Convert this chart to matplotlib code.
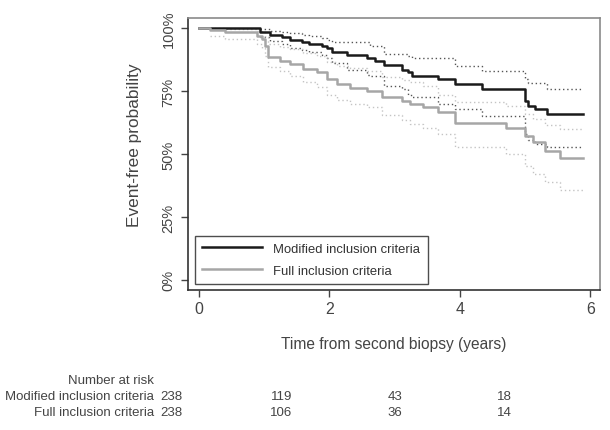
import matplotlib
matplotlib.use("Agg")
import matplotlib.pyplot as plt
import numpy as np

# ---- data ----
mod_t = [0, 0.94, 1.09, 1.27, 1.40, 1.58, 1.68, 1.89, 1.96, 2.04, 2.27, 2.57, 2.70, 2.83,
         3.11, 3.21, 3.26, 3.66, 3.93, 4.34, 5.00, 5.05, 5.15, 5.34, 5.89]
mod_s = [100, 98.3, 97.2, 96.3, 95.4, 94.3, 93.6, 92.8, 91.9, 90.6, 89.5, 88.1, 87.0, 85.3,
         83.5, 82.4, 81.0, 79.7, 77.7, 75.7, 71.1, 69.1, 68.0, 65.8, 65.8]

mod_ci_t = [0.94, 1.09, 1.27, 1.40, 1.58, 1.68, 1.89, 1.96, 2.04, 2.27, 2.57, 2.62, 2.83,
            3.11, 3.21, 3.26, 3.66, 3.93, 4.34, 5.00, 5.05, 5.15, 5.34, 5.89]
mod_hi = [99.5, 99.0, 98.4, 98.0, 97.3, 96.8, 96.0, 95.2, 94.3, 94.3, 94.3, 92.8, 89.7,
          89.7, 89.0, 88.3, 88.3, 85.0, 83.0, 79.7, 78.0, 78.0, 76.0, 76.0]
mod_lo = [96.5, 95.0, 93.5, 92.0, 91.2, 90.5, 89.5, 88.3, 86.0, 83.5, 81.5, 81.0, 77.1,
          76.0, 73.5, 72.5, 70.0, 67.8, 65.1, 58.0, 55.5, 54.0, 52.6, 52.6]

full_t = [0, 0.17, 0.40, 0.89, 0.97, 1.01, 1.06, 1.24, 1.40, 1.60, 1.81, 1.96, 2.12, 2.32,
          2.58, 2.81, 3.11, 3.24, 3.44, 3.67, 3.93, 4.71, 5.00, 5.12, 5.31, 5.54, 5.89]
full_s = [100, 99.3, 98.3, 96.9, 95.6, 93.0, 88.4, 87.0, 85.7, 83.7, 82.4, 79.7, 77.7, 76.4,
          75.1, 72.5, 71.1, 69.8, 68.5, 66.5, 62.5, 60.5, 57.2, 54.6, 51.2, 48.3, 48.3]

full_ci_t = full_t[1:]
full_hi = [100, 99.6, 99.0, 98.5, 96.5, 93.5, 92.5, 91.5, 90.0, 89.0, 86.5, 85.0, 84.0,
           83.0, 80.5, 79.5, 78.5, 77.0, 73.5, 70.7, 69.1, 66.0, 64.0, 61.5, 59.9, 59.9]
full_lo = [97.0, 95.8, 93.8, 92.0, 89.0, 84.5, 83.0, 81.0, 78.5, 76.5, 73.5, 71.5, 70.0,
           68.5, 65.5, 63.5, 62.0, 60.5, 58.0, 52.6, 50.0, 45.3, 42.0, 38.7, 35.7, 35.7]

series_names = ["Modified inclusion criteria", "Full inclusion criteria"]
risk_times = [0, 2, 4, 6]
risk_mod = [238, 119, 43, 18]
risk_full = [238, 106, 36, 14]

x_ticks = [0, 2, 4, 6]
y_ticks = [0, 25, 50, 75, 100]
y_ticklabels = ["0%", "25%", "50%", "75%", "100%"]

# ---- figure ----
plt.rcParams['font.family'] = ['Liberation Sans', 'DejaVu Sans']
fig = plt.figure(figsize=(6.10, 4.31), dpi=100)
W, H = 610, 431
ax = fig.add_axes([188 / W, 1 - 291 / H, (600 - 188) / W, (291 - 19) / H])

c_mod = "#1a1a1a"
c_full = "#a6a6a6"
txt = "#444444"
ax.plot(mod_ci_t, mod_hi, drawstyle="steps-post", color="#555555", lw=1.0, ls=(0, (1, 2)))
ax.plot(mod_ci_t, mod_lo, drawstyle="steps-post", color="#555555", lw=1.0, ls=(0, (1, 2)))
ax.plot(full_ci_t, full_hi, drawstyle="steps-post", color="#c4c4c4", lw=1.0, ls=(0, (1, 2)))
ax.plot(full_ci_t, full_lo, drawstyle="steps-post", color="#c4c4c4", lw=1.0, ls=(0, (1, 2)))
l1, = ax.plot(mod_t, mod_s, drawstyle="steps-post", color=c_mod, lw=1.8, label=series_names[0])
l2, = ax.plot(full_t, full_s, drawstyle="steps-post", color=c_full, lw=1.8, label=series_names[1])

ax.set_xlim(-0.17, 6.15)
ax.set_ylim(-4.0, 104.0)
ax.set_xticks(x_ticks)
ax.set_yticks(y_ticks)
ax.set_yticklabels(y_ticklabels, rotation=90, va="center")
ax.tick_params(axis="x", labelsize=11.5, colors=txt, length=5, width=1, pad=3)
ax.tick_params(axis="y", labelsize=10.5, colors=txt, length=5, width=1, pad=4)
for s in ["top", "right"]:
    ax.spines[s].set_color("#8a8a8a")
    ax.spines[s].set_linewidth(1.2)
for s in ["left", "bottom"]:
    ax.spines[s].set_color("#333333")
    ax.spines[s].set_linewidth(1.2)

ax.set_xlabel("Time from second biopsy (years)", fontsize=11.2, color=txt, labelpad=14)
ax.set_ylabel("Event-free probability", fontsize=12.4, color=txt)
# label sits a bit above the axis centre in the reference
ax.yaxis.set_label_coords((142 - 188) / (600 - 188), (291 - 145) / (291 - 19))

leg = ax.legend(handles=[l1, l2], loc="lower left", bbox_to_anchor=(0.017, 0.022),
                borderaxespad=0, handlelength=4.6, frameon=True,
                prop={'size': 9.4},
                fancybox=False, edgecolor="#222222", labelspacing=0.75, borderpad=0.55,
                handletextpad=0.85)
leg.get_frame().set_linewidth(1.0)
for t in leg.get_texts():
    t.set_color("#333333")

# ---- number at risk table ----
tax = fig.add_axes([0, 0, 1, 1])
tax.set_axis_off()
tax.set_xlim(-182 / 55, (610 - 182) / 55)
tax.set_ylim(H, 0)
lab_x = (154 - 182) / 55
tfs = 9.5
tax.text(lab_x, 381, "Number at risk", ha="right", va="center", fontsize=tfs, color=txt)
for row_y, name, counts in [(397, series_names[0], risk_mod), (413, series_names[1], risk_full)]:
    tax.text(lab_x, row_y, name, ha="right", va="center", fontsize=tfs, color=txt)
    for tt, n in zip(risk_times, counts):
        tax.text(tt, row_y, str(n), ha="right", va="center", fontsize=tfs, color=txt)

fig.savefig("out.png", dpi=100)
